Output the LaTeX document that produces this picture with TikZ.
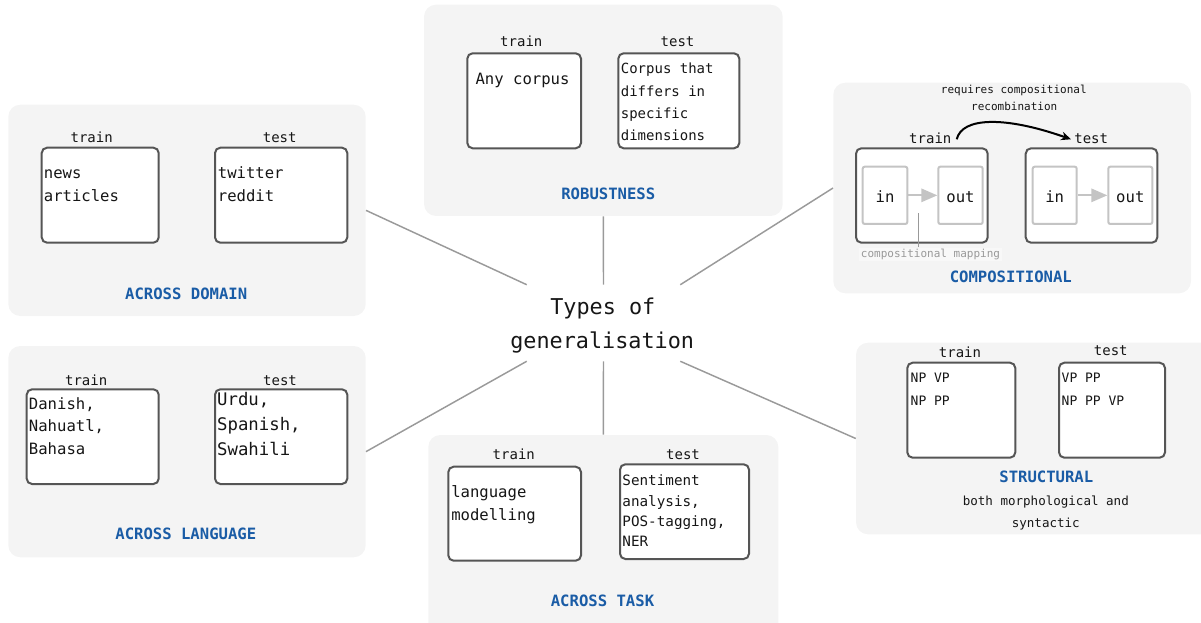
\documentclass[tikz,border=0pt]{standalone}
\usepackage{fontspec}
\setmainfont{DejaVu Sans Mono}
\usetikzlibrary{fit,arrows.meta}
\definecolor{panelbg}{HTML}{F4F4F4}
\definecolor{boxline}{HTML}{555555}
\definecolor{ttlblue}{HTML}{1A5CA6}
\definecolor{connc}{HTML}{9A9A9A}
\definecolor{lightb}{HTML}{C4C4C4}
\definecolor{maptxt}{HTML}{999999}
\definecolor{txtc}{HTML}{161616}
\newcommand{\fs}[1]{\fontsize{#1}{#1}\selectfont}
\begin{document}
\begin{tikzpicture}[x=0.75pt,y=-0.75pt,
  panel/.style={fill=panelbg, draw=none, rounded corners=9pt, inner sep=0pt},
  sbox/.style={fill=white, draw=boxline, line width=1.5pt, rounded corners=4pt, inner sep=0pt},
  ibox/.style={fill=white, draw=lightb, line width=1.5pt, rounded corners=1.5pt, inner sep=0pt},
  ghost/.style={draw=none, inner sep=0pt},
  conn/.style={draw=connc, line width=1.1pt},
  lbl/.style={font=\fs{10.5}, text=txtc, inner sep=0pt, anchor=base},
  body/.style={font=\fs{11.7}, text=txtc, inner sep=0pt, anchor=base west},
  smallbody/.style={font=\fs{10.5}, text=txtc, inner sep=0pt, anchor=base west},
  bigbody/.style={font=\fs{13}, text=txtc, inner sep=0pt, anchor=base west},
  taskbody/.style={font=\fs{10.7}, text=txtc, inner sep=0pt, anchor=base west},
  structbody/.style={font=\fs{9.75}, text=txtc, inner sep=0pt, anchor=base west},
  desc/.style={font=\fs{9.4}, text=txtc, inner sep=0pt, anchor=base},
  tiny/.style={font=\fs{8.25}, text=txtc, inner sep=0pt, anchor=base},
  ctext/.style={font=\fs{11.7}, text=txtc, inner sep=0pt, anchor=base},
  ttl/.style={font=\fs{11.7}\bfseries, text=ttlblue, inner sep=0pt, anchor=base},
  centertxt/.style={font=\fs{16.35}, text=txtc, inner sep=0pt, anchor=base},
  grayarr/.style={draw=lightb, line width=1.5pt, -{Triangle[length=12pt,width=10pt]}},
  curvearr/.style={draw=black, line width=1.5pt, -{Stealth[length=7.5pt,width=6.5pt]}},
  mapline/.style={draw=gray!80, line width=1.1pt},
  maplbl/.style={font=\fs{8.25}, text=maptxt, anchor=base, fill=white, fill opacity=0.45, text opacity=1, inner xsep=1.5pt, inner ysep=1pt}
]
\useasboundingbox (0,0) rectangle (1201,623);

% ---------- panels ----------
\node[panel, fit={(8.3,104.7)(365.7,316)}] (pdom) {};
\node[panel, fit={(424,4.7)(782.7,216)}] (prob) {};
\node[panel, fit={(833.3,82.7)(1191,293.3)}] (pcomp) {};
\node[panel, fit={(8.3,346)(365.7,557.3)}] (plang) {};
\node[panel, fit={(428.3,435)(778.3,640)}] (ptask) {};
\node[panel, fit={(856,342.7)(1215,534.3)}] (pstruct) {};

% ---------- centre ----------
\node[ghost, fit={(527,285)(680,361)}] (ctr) {};
\node[centertxt] (ctr1) at (602.8,314.3) {Types of};
\node[centertxt] (ctr2) at (602.2,348.3) {generalisation};

% ---------- connectors ----------
\draw[conn] (ctr.north west) -- (pdom.east);
\draw[conn] (ctr.north) -- (prob.south);
\draw[conn] (ctr.north east) -- (pcomp.west);
\draw[conn] (ctr.south west) -- (plang.east);
\draw[conn] (ctr.south) -- (ptask.north);
\draw[conn] (ctr.south east) -- (pstruct.west);

% ---------- across domain ----------
\node[sbox, fit={(41.7,147.7)(158.7,242.7)}] (domtr) {};
\node[sbox, fit={(215,147.7)(347.3,242.7)}] (domte) {};
\node[lbl] (domtrl) at (91.7,143) {train};
\node[lbl] (domtel) at (279.7,143) {test};
\node[body] (domtr1) at (43.6,179) {news};
\node[body] (domtr2) at (43.6,202) {articles};
\node[body] (domte1) at (217.6,179) {twitter};
\node[body] (domte2) at (217.6,202) {reddit};
\node[ttl] (domttl) at (186.2,300) {ACROSS DOMAIN};

% ---------- robustness ----------
\node[sbox, fit={(467.3,53.3)(581,148.3)}] (robtr) {};
\node[sbox, fit={(618.3,53.3)(739.3,148.3)}] (robte) {};
\node[lbl] (robtrl) at (521.3,46.7) {train};
\node[lbl] (robtel) at (677.5,46.7) {test};
\node[body] (robtr1) at (475.3,85) {Any corpus};
\node[smallbody] (robte1) at (620.6,74) {Corpus that};
\node[smallbody] (robte2) at (620.6,96.3) {differs in};
\node[smallbody] (robte3) at (620.6,118.7) {specific};
\node[smallbody] (robte4) at (620.6,141) {dimensions};
\node[ttl] (robttl) at (608.3,199.3) {ROBUSTNESS};

% ---------- compositional ----------
\node[sbox, fit={(856,148.3)(987.7,242.7)}] (comtr) {};
\node[sbox, fit={(1025.7,148.3)(1157.3,242.7)}] (comte) {};
\node[ibox, fit={(862.7,166.7)(907.3,224)}] (cin1) {};
\node[ibox, fit={(938.3,166.7)(982.7,224)}] (cout1) {};
\node[ibox, fit={(1032.7,166.7)(1076.7,224)}] (cin2) {};
\node[ibox, fit={(1108.3,166.7)(1152.3,224)}] (cout2) {};
\node[ctext] (cin1t) at (885,202.3) {in};
\node[ctext] (cout1t) at (960.5,202.3) {out};
\node[ctext] (cin2t) at (1054.7,202.3) {in};
\node[ctext] (cout2t) at (1130.3,202.3) {out};
\draw[grayarr] (cin1.east) -- (cout1.west);
\draw[grayarr] (cin2.east) -- (cout2.west);
\node[lbl] (comtrl) at (930.3,143.3) {train};
\node[lbl] (comtel) at (1091.2,143.3) {test};
\node[tiny] (creq1) at (1013.8,94) {requires compositional};
\node[tiny] (creq2) at (1014.2,110.7) {recombination};
\coordinate (crA) at (956.7,139.3);
\coordinate (crB) at (1071,139.3);
\draw[curvearr] (crA) .. controls (962,117) and (1005,116) .. (crB);
\node[maplbl] (cmap) at (930.5,257.3) {compositional mapping};
\coordinate (cmapT) at (918.3,213.3);
\draw[mapline] (cmapT) -- (cmapT |- cmap.north);
\node[ttl] (comttl) at (1010.8,282.7) {COMPOSITIONAL};

% ---------- across language ----------
\node[sbox, fit={(26.7,389.3)(158.7,484)}] (lantr) {};
\node[sbox, fit={(215,389.3)(347.3,484)}] (lante) {};
\node[lbl] (lantrl) at (86.2,385) {train};
\node[lbl] (lantel) at (280,385) {test};
\node[body] (lantr1) at (28.7,409) {Danish,};
\node[body] (lantr2) at (28.7,431.5) {Nahuatl,};
\node[body] (lantr3) at (28.7,454) {Bahasa};
\node[bigbody] (lante1) at (216.9,405) {Urdu,};
\node[bigbody] (lante2) at (216.9,430) {Spanish,};
\node[bigbody] (lante3) at (216.9,455) {Swahili};
\node[ttl] (lanttl) at (185.8,539.3) {ACROSS LANGUAGE};

% ---------- across task ----------
\node[sbox, fit={(448.3,466.7)(581,560.7)}] (tastr) {};
\node[sbox, fit={(620,464.3)(749,559)}] (taste) {};
\node[lbl] (tastrl) at (513.8,459.3) {train};
\node[lbl] (tastel) at (683,459.3) {test};
\node[body] (tastr1) at (451,497.7) {language};
\node[body] (tastr2) at (451,520) {modelling};
\node[taskbody] (taste1) at (622.2,485.7) {Sentiment};
\node[taskbody] (taste2) at (622.2,506) {analysis,};
\node[taskbody] (taste3) at (622.2,526.7) {POS-tagging,};
\node[taskbody] (taste4) at (622.2,546.7) {NER};
\node[ttl] (tasttl) at (602.5,606) {ACROSS TASK};

% ---------- structural ----------
\node[sbox, fit={(907.3,362.7)(1015.3,457.7)}] (strtr) {};
\node[sbox, fit={(1059,362.7)(1165,457.7)}] (strte) {};
\node[lbl] (strtrl) at (960,357.3) {train};
\node[lbl] (strtel) at (1110.8,355.7) {test};
\node[structbody] (strtr1) at (910.4,382.7) {NP VP};
\node[structbody] (strtr2) at (910.4,405) {NP PP};
\node[structbody] (strte1) at (1061.4,382.7) {VP PP};
\node[structbody] (strte2) at (1061.4,405) {NP PP VP};
\node[ttl] (strttl) at (1046.3,482.7) {STRUCTURAL};
\node[desc] (strd1) at (1045.8,505.7) {both morphological and};
\node[desc] (strd2) at (1045.8,527.3) {syntactic};
\end{tikzpicture}
\end{document}
